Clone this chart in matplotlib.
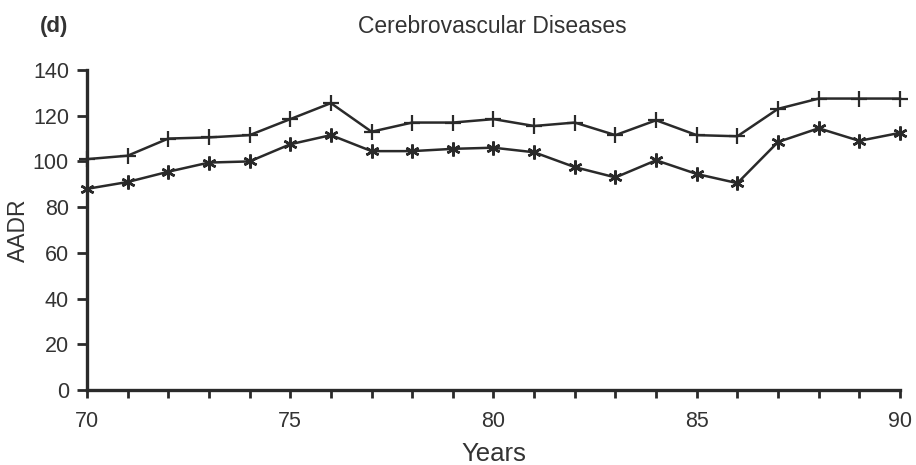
import matplotlib.pyplot as plt

plt.rcParams['font.family'] = ['Liberation Sans', 'DejaVu Sans']

years = list(range(70, 91))
upper = [101, 102.5, 110, 110.5, 111.5, 118.5, 125.5, 113, 117, 117,
         118.5, 115.5, 117, 111.5, 118, 111.5, 111, 123, 127.5, 127.5, 127.5]
lower = [88, 91, 95.5, 99.5, 100, 107.5, 111.5, 104.5, 104.5, 105.5,
         106, 104, 97.5, 93, 100.5, 94.5, 90.5, 108.5, 114.5, 109, 112.5]
yticks = [0, 20, 40, 60, 80, 100, 120, 140]
xlabels = [str(y) if y % 5 == 0 else '' for y in years]

ink = '#2a2a2a'
txt = '#333333'

fig = plt.figure(figsize=(9.16, 4.65), dpi=100)
ax = fig.add_axes([0.095, 0.1613, 0.8875, 0.6882])

ax.plot(years, upper, color=ink, lw=1.8, marker='+', ms=12, mew=1.6,
        clip_on=False)
ax.plot(years, lower, color=ink, lw=1.8, marker=(6, 2, 0), ms=10, mew=1.8,
        clip_on=False)

ax.set_xlim(70, 90)
ax.set_ylim(0, 140)
ax.set_xticks(years)
ax.set_xticklabels(xlabels)
ax.set_yticks(yticks)

for side in ['top', 'right']:
    ax.spines[side].set_visible(False)
for side in ['left', 'bottom']:
    ax.spines[side].set_linewidth(2.4)
    ax.spines[side].set_color(ink)

ax.tick_params(axis='y', direction='out', length=7, width=2, color=ink,
               labelsize=15.5, labelcolor=txt, pad=6)
ax.tick_params(axis='x', direction='out', length=6, width=2, color=ink,
               labelsize=15.5, labelcolor=txt, pad=9)

ax.set_xlabel('Years', fontsize=18.5, color=txt, labelpad=7)
ax.set_ylabel('AADR', fontsize=16.5, color=txt, labelpad=2)

fig.text(0.537, 0.942, 'Cerebrovascular Diseases', ha='center', va='center',
         fontsize=16.5, color=txt)
fig.text(0.043, 0.942, '(d)', ha='left', va='center', fontsize=16,
         fontweight='bold', color=txt)

fig.savefig('out.png', dpi=100, facecolor='white')
